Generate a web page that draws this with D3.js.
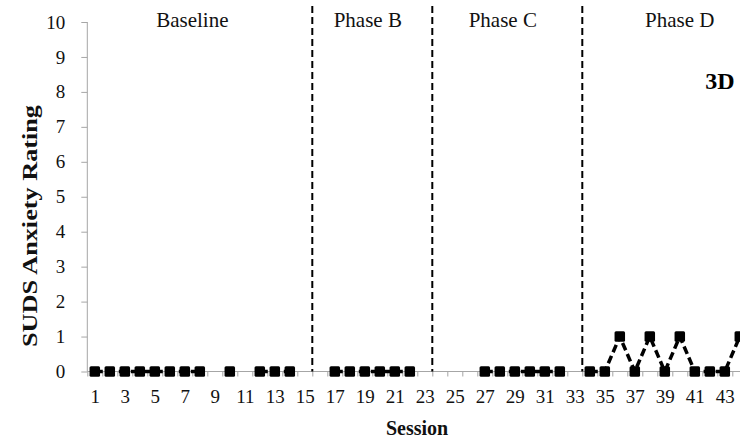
<!DOCTYPE html>
<html>
<head>
<meta charset="utf-8">
<script src="https://cdn.jsdelivr.net/npm/d3@7"></script>
<style>
  body { margin: 0; background: #fff; }
</style>
</head>
<body>
<div id="chart"></div>
<script>
// sessions 1..44, null = no data that session
var sessions = d3.range(1, 45);
var suds = [
  0, 0, 0, 0, 0, 0, 0, 0, null, 0, null, 0, 0, 0, null,      // Baseline 1-15
  null, 0, 0, 0, 0, 0, 0, null,                             // Phase B 16-23
  null, null, null, 0, 0, 0, 0, 0, 0, null,                 // Phase C 24-33
  0, 0, 1, 0, 1, 0, 1, 0, 0, 0, 1                           // Phase D 34-44
];
var phaseNames = ["Baseline", "Phase B", "Phase C", "Phase D"];
var phaseEnds = [15, 23, 33];          // last session of each phase before a change line
var phaseLabelAt = [7.5, 19.2, 28.2, 40];  // session where each phase label is centred
var yTicks = d3.range(0, 11);
var xLabels = sessions.filter(function(d) { return d % 2 === 1; });

var FONT = "'Liberation Serif'";
var width = 740, height = 439;
var svg = d3.select("#chart").append("svg")
    .attr("width", width)
    .attr("height", height);

var x = d3.scaleLinear().domain([0.5, 44.5]).range([87.3, 747.3]);
var y = d3.scaleLinear().domain([0, 10]).range([371.5, 22]);

function styleAxis(g) {
    g.attr("font-family", null).attr("font-size", null);
    g.selectAll("path, line").attr("stroke", "#a6a6a6");
    g.selectAll("text")
        .style("font-family", FONT)
        .style("font-size", "19px")
        .attr("fill", "#111");
}

// y axis
var yAxis = svg.append("g")
    .attr("transform", "translate(" + x(0.5) + ",0)")
    .call(d3.axisLeft(y).tickValues(yTicks).tickSize(6).tickPadding(16).tickSizeOuter(0))
    .call(styleAxis);
yAxis.select(".domain").attr("d", "M0," + y(10) + "V" + y(0));

// x axis: ticks on session boundaries, labels on odd sessions
var bounds = d3.range(0, 45).map(function(d) { return d + 0.5; });
var xAxis = svg.append("g")
    .attr("transform", "translate(0," + y(0) + ")")
    .call(d3.axisBottom(x).tickValues(bounds).tickSize(5).tickFormat("").tickSizeOuter(0))
    .call(styleAxis);
xAxis.select(".domain").attr("d", "M" + x(0.5) + ",0H" + x(44.5));

svg.append("g")
    .attr("transform", "translate(0," + y(0) + ")")
    .call(d3.axisBottom(x).tickValues(xLabels).tickSize(0).tickPadding(18))
    .call(styleAxis)
    .call(function(g) { g.select(".domain").remove(); });

// phase change lines
svg.selectAll(".phase-line")
    .data(phaseEnds)
    .enter().append("line")
    .attr("class", "phase-line")
    .attr("x1", function(d) { return x(d + 0.5); })
    .attr("x2", function(d) { return x(d + 0.5); })
    .attr("y1", 6)
    .attr("y2", y(0))
    .attr("stroke", "#000")
    .attr("stroke-width", 2)
    .attr("stroke-dasharray", "7,4");

svg.selectAll(".phase-label")
    .data(phaseNames)
    .enter().append("text")
    .attr("class", "phase-label")
    .attr("x", function(d, i) { return x(phaseLabelAt[i]); })
    .attr("y", 26.5)
    .attr("text-anchor", "middle")
    .style("font-family", FONT)
    .style("font-size", "21px")
    .style("fill", "#111")
    .text(function(d) { return d; });

// data line
var points = sessions.map(function(s, i) { return { s: s, v: suds[i] }; });
var line = d3.line()
    .defined(function(d) { return d.v !== null; })
    .x(function(d) { return x(d.s); })
    .y(function(d) { return y(d.v); });

svg.append("path")
    .datum(points)
    .attr("d", line)
    .attr("fill", "none")
    .attr("stroke", "#000")
    .attr("stroke-width", 3.5)
    .attr("stroke-dasharray", "8,4");

var m = 10.5;
svg.selectAll(".marker")
    .data(points.filter(function(d) { return d.v !== null; }))
    .enter().append("rect")
    .attr("class", "marker")
    .attr("x", function(d) { return x(d.s) - m / 2; })
    .attr("y", function(d) { return y(d.v) - m / 2; })
    .attr("width", m)
    .attr("height", m)
    .attr("rx", 1.5)
    .attr("fill", "#000");

// titles
svg.append("text")
    .attr("transform", "translate(37," + 226 + ") rotate(-90)")
    .attr("text-anchor", "middle")
    .attr("textLength", 242)
    .attr("lengthAdjust", "spacingAndGlyphs")
    .style("font-family", FONT)
    .style("font-size", "21px")
    .style("font-weight", "bold")
    .style("fill", "#111")
    .text("SUDS Anxiety Rating");

svg.append("text")
    .attr("x", 417)
    .attr("y", 435)
    .attr("text-anchor", "middle")
    .style("font-family", FONT)
    .style("font-size", "20px")
    .style("font-weight", "bold")
    .style("fill", "#111")
    .text("Session");

svg.append("text")
    .attr("x", 720)
    .attr("y", 89)
    .attr("text-anchor", "middle")
    .style("font-family", FONT)
    .style("font-size", "24px")
    .style("font-weight", "bold")
    .style("fill", "#000")
    .text("3D");
</script>
</body>
</html>
